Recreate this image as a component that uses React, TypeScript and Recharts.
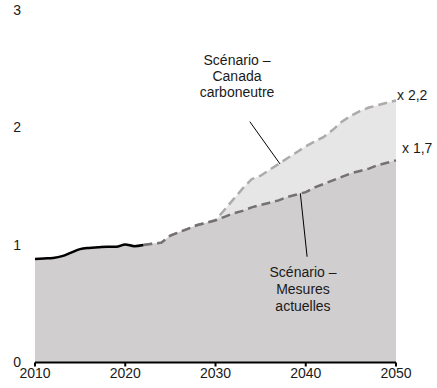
import {
  ComposedChart,
  Area,
  Line,
  XAxis,
  YAxis,
  ReferenceLine,
} from "recharts";

const YEARS = Array.from({ length: 41 }, (_, i) => 2010 + i);

// historique 2010–2022
const HIST = [
  0.88, 0.885, 0.89, 0.905, 0.935, 0.965, 0.975, 0.98, 0.985, 0.985, 1.005,
  0.99, 1.0,
];

// projections 2022–2050
const MESURES = [
  1.0, 1.01, 1.02, 1.08, 1.11, 1.14, 1.17, 1.19, 1.21, 1.24, 1.27, 1.29, 1.32,
  1.34, 1.36, 1.38, 1.41, 1.43, 1.45, 1.49, 1.52, 1.55, 1.58, 1.61, 1.63, 1.65,
  1.68, 1.7, 1.72,
];
const CANADA = [
  1.0, 1.01, 1.02, 1.08, 1.11, 1.14, 1.17, 1.19, 1.21, 1.3, 1.39, 1.48, 1.56,
  1.59, 1.64, 1.69, 1.74, 1.79, 1.84, 1.88, 1.92, 1.98, 2.05, 2.1, 2.14, 2.17,
  2.19, 2.21, 2.23,
];

const X_TICKS = [2010, 2020, 2030, 2040, 2050];
const Y_TICKS = [0, 1, 2, 3];

const FONT = "'Liberation Sans', Arial, sans-serif";

const data = YEARS.map((year, i) => {
  const hist = i < HIST.length ? HIST[i] : null;
  const j = year - 2022;
  const mesures = j >= 0 ? MESURES[j] : null;
  const canada = j >= 0 ? CANADA[j] : null;
  return { year, hist, mesures, canada, base: hist ?? mesures };
});

export default function App() {
  return (
    <div style={{ position: "absolute", left: 0, top: 0, width: 437, height: 388 }}>
      <ComposedChart
        width={437}
        height={388}
        data={data}
        margin={{ top: 10, right: 41, left: 0, bottom: 0 }}
        style={{ fontFamily: FONT }}
      >
        <XAxis
          dataKey="year"
          type="number"
          domain={[2010, 2050]}
          ticks={X_TICKS}
          height={25.5}
          axisLine={{ stroke: "#000", strokeWidth: 2 }}
          tickLine={{ stroke: "#000", strokeWidth: 2 }}
          tickSize={4}
          tickMargin={2}
          tick={{ fill: "#1a1a1a", fontSize: 14 }}
        />
        <YAxis
          type="number"
          domain={[0, 3]}
          ticks={Y_TICKS}
          width={35}
          axisLine={false}
          tickLine={false}
          tickSize={0}
          tickMargin={14}
          tick={{ fill: "#1a1a1a", fontSize: 14 }}
        />
        <Area
          dataKey="canada"
          type="linear"
          fill="#e7e6e6"
          fillOpacity={1}
          stroke="none"
          isAnimationActive={false}
        />
        <Area
          dataKey="base"
          type="linear"
          fill="#d0cece"
          fillOpacity={1}
          stroke="none"
          isAnimationActive={false}
        />
        <Line
          dataKey="canada"
          type="linear"
          stroke="#aeaaaa"
          strokeWidth={2.5}
          strokeDasharray="9 5"
          dot={false}
          isAnimationActive={false}
        />
        <Line
          dataKey="mesures"
          type="linear"
          stroke="#767171"
          strokeWidth={2.5}
          strokeDasharray="9 5"
          dot={false}
          isAnimationActive={false}
        />
        <Line
          dataKey="hist"
          type="monotone"
          stroke="#000"
          strokeWidth={2.5}
          dot={false}
          isAnimationActive={false}
        />
        <ReferenceLine
          segment={[
            { x: 2033.8, y: 2.05 },
            { x: 2037.15, y: 1.69 },
          ]}
          stroke="#000"
          strokeWidth={1}
        />
        <ReferenceLine
          segment={[
            { x: 2039.4, y: 1.44 },
            { x: 2040.15, y: 0.9 },
          ]}
          stroke="#000"
          strokeWidth={1}
        />
      </ComposedChart>
      <svg
        width={437}
        height={388}
        style={{ position: "absolute", left: 0, top: 0, pointerEvents: "none" }}
        fontFamily={FONT}
        fontSize={14}
        fill="#1a1a1a"
      >
        <text x={237} y={65} textAnchor="middle">Scénario –</text>
        <text x={237} y={81} textAnchor="middle">Canada</text>
        <text x={237} y={97} textAnchor="middle">carboneutre</text>
        <text x={303} y={277} textAnchor="middle">Scénario –</text>
        <text x={303} y={294} textAnchor="middle">Mesures</text>
        <text x={303} y={311} textAnchor="middle">actuelles</text>
        <text x={397} y={100}>x 2,2</text>
        <text x={402} y={153}>x 1,7</text>
      </svg>
    </div>
  );
}
